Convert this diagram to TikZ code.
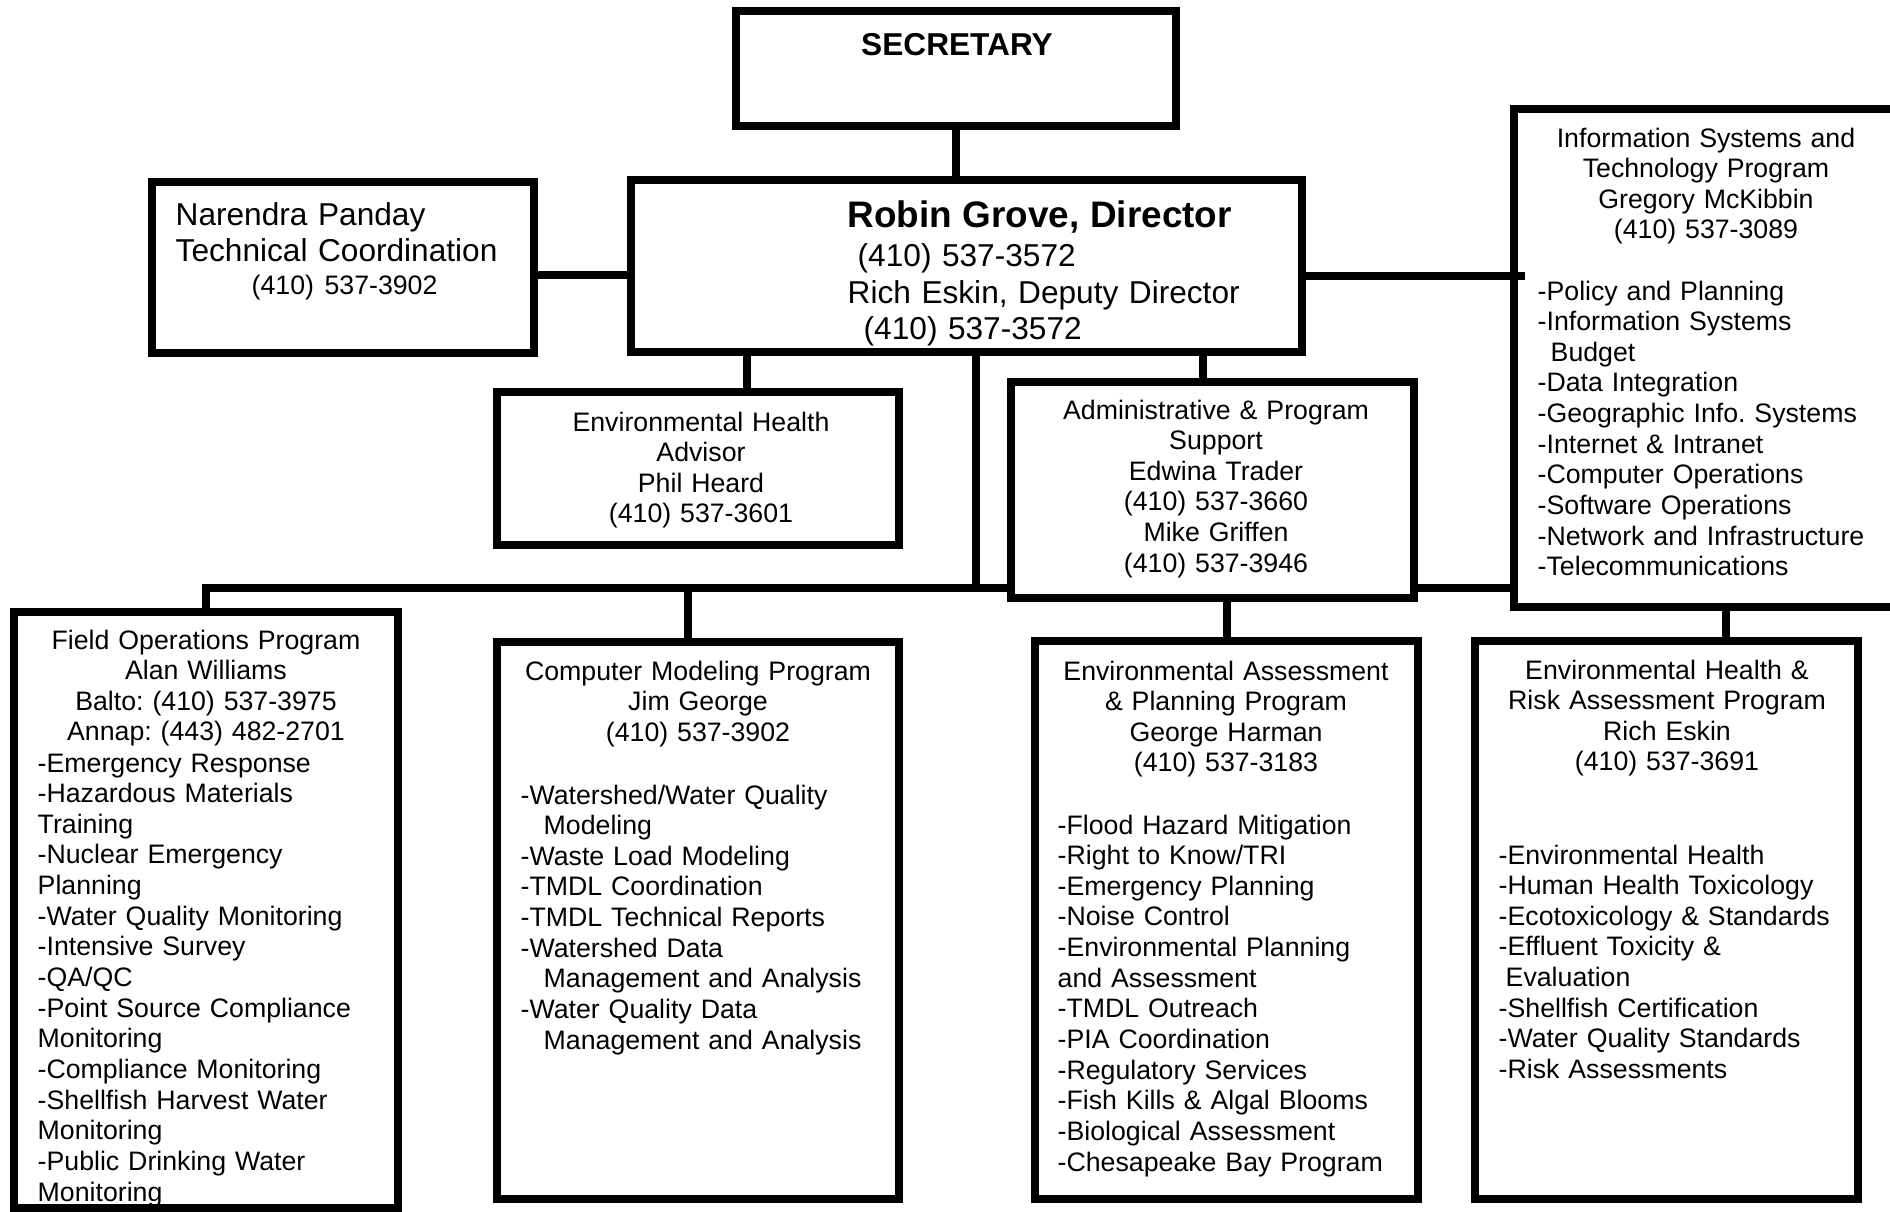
\documentclass[tikz,border=0pt]{standalone}
\usepackage{fontspec}
\setmainfont{Liberation Sans}
\usepackage{tikz}
\usetikzlibrary{positioning,calc}
\frenchspacing
\newcommand\orgsmall{\fontsize{7.6}{8.72}\selectfont}
\newcommand\orgmid{\fontsize{9}{10.4}\selectfont}

\begin{document}
\begin{tikzpicture}[
  x=1cm,y=1cm,
  unit/.style={draw, line width=0.08cm, inner sep=0pt, outer sep=0pt},
  head/.style={anchor=base, inner sep=0pt, align=center, text width=4cm, font=\orgsmall},
  duty/.style={anchor=base west, inner sep=0pt, align=left, text width=4cm, font=\orgsmall},
  link/.style={line width=0.08cm}
]
\useasboundingbox (0,0) rectangle (18.9,-12.12);
\node[unit, minimum width=4.40cm, minimum height=1.15cm] (secretary) at (9.56,-0.685) {};
\node[unit, minimum width=6.71cm, minimum height=1.72cm] (director) at (9.665,-2.66) {};
\node[unit, minimum width=3.82cm, minimum height=1.71cm] (narendra) at (3.43,-2.675) {};
\node[unit, minimum width=4.02cm, minimum height=1.53cm] (advisor) at (6.98,-4.685) {};
\node[unit, minimum width=4.03cm, minimum height=2.16cm] (admin) at (12.125,-4.90) {};
\node[unit, minimum width=3.84cm, minimum height=4.98cm] (istp) at (17.06,-3.58) {};
\node[unit, minimum width=3.84cm, minimum height=5.96cm] (fieldops) at (2.06,-9.10) {};
\node[unit, minimum width=4.02cm, minimum height=5.57cm] (compmod) at (6.98,-9.205) {};
\node[unit, minimum width=3.83cm, minimum height=5.58cm] (envassess) at (12.265,-9.20) {};
\node[unit, minimum width=3.83cm, minimum height=5.58cm] (ehra) at (16.665,-9.20) {};

\node[anchor=base, inner sep=0pt, font=\orgmid\bfseries] (sectext) at (9.57,-0.55) {SECRETARY};
\node[anchor=base west, inner sep=0pt, align=left, text width=5cm, font=\orgmid] (dirtext) at (8.47,-2.27) {{\fontsize{10.5}{10.4}\bfseries\selectfont Robin Grove, Director}\\[0.03cm]\hspace*{0.1cm}(410) 537-3572\\Rich Eskin, Deputy Director\\\hspace*{0.16cm}(410) 537-3572};
\node[anchor=base west, inner sep=0pt, align=left, text width=3.6cm, font=\orgmid] (techtext) at (1.75,-2.25) {Narendra Panday\\Technical Coordination\\[-0.04cm]\hspace*{0.76cm}{\orgsmall (410) 537-3902}};
\node[head] (advtext) at (7.01,-4.31) {Environmental Health\\Advisor\\Phil Heard\\(410) 537-3601};
\node[head] (admtext) at (12.16,-4.19) {Administrative \& Program\\Support\\Edwina Trader\\(410) 537-3660\\Mike Griffen\\(410) 537-3946};
\node[head] (isthead) at (17.06,-1.47) {Information Systems and\\Technology Program\\Gregory McKibbin\\(410) 537-3089};
\node[duty] (istlist) at (15.37,-3.00) {-Policy and Planning\\-Information Systems\\\hspace*{0.13cm}Budget\\-Data Integration\\-Geographic Info. Systems\\-Internet \& Intranet\\-Computer Operations\\-Software Operations\\-Network and Infrastructure\\-Telecommunications};
\node[head] (fohead) at (2.06,-6.49) {Field Operations Program\\Alan Williams\\Balto: (410) 537-3975\\Annap: (443) 482-2701};
\node[duty] (folist) at (0.37,-7.72) {-Emergency Response\\-Hazardous Materials\\Training\\-Nuclear Emergency\\Planning\\-Water Quality Monitoring\\-Intensive Survey\\-QA/QC\\-Point Source Compliance\\Monitoring\\-Compliance Monitoring\\-Shellfish Harvest Water\\Monitoring\\-Public Drinking Water\\Monitoring};
\node[head] (cmhead) at (6.98,-6.80) {Computer Modeling Program\\Jim George\\(410) 537-3902};
\node[duty] (cmlist) at (5.20,-8.04) {-Watershed/Water Quality\\\hspace*{0.23cm}Modeling\\-Waste Load Modeling\\-TMDL Coordination\\-TMDL Technical Reports\\-Watershed Data\\\hspace*{0.23cm}Management and Analysis\\-Water Quality Data\\\hspace*{0.23cm}Management and Analysis};
\node[head] (eahead) at (12.26,-6.80) {Environmental Assessment\\\& Planning Program\\George Harman\\(410) 537-3183};
\node[duty] (ealist) at (10.57,-8.34) {-Flood Hazard Mitigation\\-Right to Know/TRI\\-Emergency Planning\\-Noise Control\\-Environmental Planning\\and Assessment\\-TMDL Outreach\\-PIA Coordination\\-Regulatory Services\\-Fish Kills \& Algal Blooms\\-Biological Assessment\\-Chesapeake Bay Program};
\node[head] (ehhead) at (16.67,-6.79) {Environmental Health \&\\Risk Assessment Program\\Rich Eskin\\(410) 537-3691};
\node[duty] (ehlist) at (14.98,-8.64) {-Environmental Health\\-Human Health Toxicology\\-Ecotoxicology \& Standards\\-Effluent Toxicity \&\\\hspace*{0.07cm}Evaluation\\-Shellfish Certification\\-Water Quality Standards\\-Risk Assessments};

\coordinate (bus) at (0,-5.88);
\coordinate (techline) at (0,-2.745);
\coordinate (itline) at (0,-2.755);
\coordinate (advtap) at (7.465,0);
\coordinate (admtap) at (12.03,0);
\coordinate (drop) at (9.76,0);
\coordinate (cmtap) at (6.88,0);
\coordinate (ehtap) at (17.26,0);
\draw[link] (secretary.south) -- (secretary.south |- director.north);
\draw[link] (narendra.east |- techline) -- (director.west |- techline);
\draw[link, shorten >=-0.11cm] (director.east |- itline) -- (istp.west |- itline);
\draw[link] (advtap |- director.south) -- (advtap |- advisor.north);
\draw[link] (admtap |- director.south) -- (admtap |- admin.north);
\draw[link] (drop |- director.south) -- (drop |- bus);
\draw[link] (fieldops.north) |- (admin.west |- bus);
\draw[link] (admin.east |- bus) -- (istp.west |- bus);
\draw[link] (cmtap |- bus) -- (cmtap |- compmod.north);
\draw[link] (envassess.north |- admin.south) -- (envassess.north);
\draw[link] (ehtap |- istp.south) -- (ehtap |- ehra.north);
\end{tikzpicture}
\end{document}
